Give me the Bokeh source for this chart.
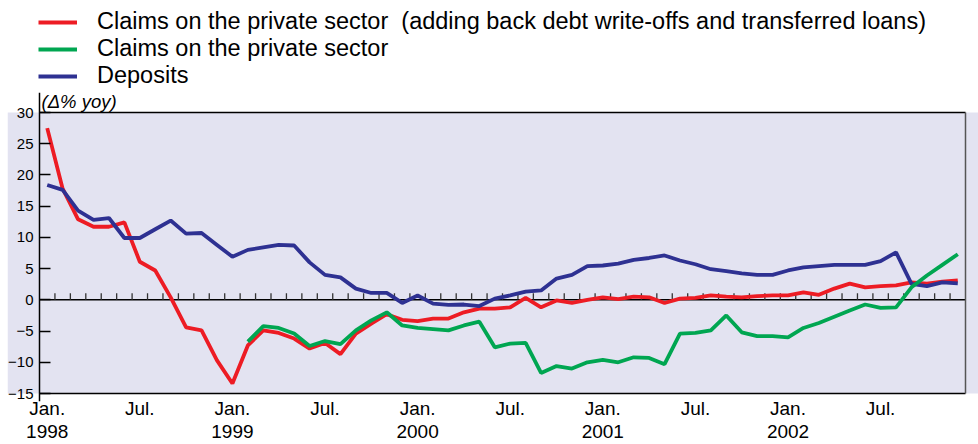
import math
from bokeh.plotting import figure
from bokeh.layouts import column
from bokeh.models import (Range1d, LinearAxis, FixedTicker, Legend, LegendItem,
                          ColumnDataSource, BoxAnnotation, Label)
from bokeh.embed import file_html
from bokeh.resources import INLINE

NaN = float("nan")

# ---- data (monthly, Jan 1998 - Dec 2002) ----
years = [1998, 1999, 2000, 2001, 2002]
month_names = ["Jan.", "Feb.", "Mar.", "Apr.", "May", "Jun.",
               "Jul.", "Aug.", "Sep.", "Oct.", "Nov.", "Dec."]

claims_adjusted = [
    27.5, 17.8, 12.9, 11.7, 11.7, 12.4, 6.1, 4.7, 0.4, -4.4, -4.9, -9.7,
    -13.4, -7.3, -4.9, -5.3, -6.2, -7.8, -6.9, -8.7, -5.4, -3.8, -2.3, -3.2,
    -3.4, -3.0, -3.0, -2.0, -1.4, -1.4, -1.2, 0.3, -1.2, -0.1, -0.5, 0.0,
    0.4, 0.1, 0.5, 0.4, -0.5, 0.2, 0.3, 0.7, 0.5, 0.4, 0.6, 0.7,
    0.7, 1.2, 0.8, 1.8, 2.6, 2.0, 2.2, 2.3, 2.8, 2.6, 2.9, 3.1,
]
claims = [NaN] * 13 + [
    -6.7, -4.2, -4.5, -5.4, -7.4, -6.6, -7.1, -4.9, -3.3, -2.0, -4.1,
    -4.5, -4.7, -4.9, -4.1, -3.5, -7.6, -7.0, -6.9, -11.7, -10.6, -11.0, -10.0,
    -9.6, -10.0, -9.2, -9.3, -10.3, -5.4, -5.3, -4.9, -2.5, -5.2, -5.8, -5.8,
    -6.0, -4.5, -3.7, -2.7, -1.7, -0.75, -1.3, -1.2, 2.0, 3.9, 5.6, 7.3,
]
deposits = [
    18.4, 17.6, 14.3, 12.8, 13.1, 9.9, 9.9, 11.3, 12.7, 10.6, 10.7, 8.8,
    6.9, 8.0, 8.4, 8.8, 8.7, 6.0, 4.0, 3.6, 1.8, 1.1, 1.1, -0.5,
    0.7, -0.6, -0.8, -0.75, -1.0, 0.2, 0.7, 1.3, 1.5, 3.4, 4.0, 5.4,
    5.5, 5.8, 6.4, 6.7, 7.1, 6.3, 5.7, 4.9, 4.6, 4.25, 4.0, 4.0,
    4.7, 5.2, 5.4, 5.6, 5.6, 5.6, 6.2, 7.6, 2.55, 2.2, 2.8, 2.65,
]
y_ticks = [-15, -10, -5, 0, 5, 10, 15, 20, 25, 30]

legend_labels = [
    "Claims on the private sector\u00a0 (adding back debt write-offs and transferred loans)",
    "Claims on the private sector",
    "Deposits",
]
unit_label = "(\u0394% yoy)"

# ---- derived ----
n = len(deposits)
idx = list(range(n))
src = ColumnDataSource(dict(x=idx, adj=claims_adjusted, cl=claims, dep=deposits))

LAV = "#E3E3F1"
RED = "#ED1C24"
GREEN = "#00A651"
BLUE = "#2E3192"
FONT = "Liberation Sans"
LW = 3.8
W = 978
H = 444

# ---------- legend strip ----------
LEG_H = 92
pl = figure(width=W, height=LEG_H, output_backend="svg", toolbar_location=None,
            x_range=Range1d(0, 1), y_range=Range1d(1000, 1001),
            x_axis_location=None, y_axis_location=None, min_border=0)
pl.outline_line_color = None
pl.xgrid.visible = False
pl.ygrid.visible = False
pl.background_fill_color = "white"
l_adj = pl.line("x", "adj", source=src, line_color=RED, line_width=LW)
l_cl = pl.line("x", "cl", source=src, line_color=GREEN, line_width=LW)
l_dep = pl.line("x", "dep", source=src, line_color=BLUE, line_width=LW)
legend = Legend(items=[LegendItem(label=legend_labels[0], renderers=[l_adj]),
                       LegendItem(label=legend_labels[1], renderers=[l_cl]),
                       LegendItem(label=legend_labels[2], renderers=[l_dep])],
                location=(31, LEG_H - 11 - 78), orientation="vertical")
legend.glyph_width = 39
legend.glyph_height = 26
legend.label_height = 26
legend.spacing = 0
legend.padding = 0
legend.margin = 0
legend.label_standoff = 20
legend.border_line_color = None
legend.background_fill_alpha = 0
legend.label_text_font = FONT
legend.label_text_font_size = "23.5px"
legend.label_text_color = "black"
pl.add_layout(legend, "center")

# ---------- main chart ----------
x_lo, x_hi = idx[0] - 0.5, idx[-1] + 0.5
frame_left = 7
left_strip, right_strip = 32, 13
ppm = (W - frame_left - left_strip - right_strip) / (x_hi - x_lo)
ppu = 281 / (y_ticks[-1] - y_ticks[0])     # px per percentage point
pad_top, pad_bot = 112 - LEG_H, 8
p = figure(width=W, height=H - LEG_H, output_backend="svg", toolbar_location=None,
           x_range=Range1d(x_lo - left_strip / ppm, x_hi + right_strip / ppm),
           y_range=Range1d(y_ticks[0] - pad_bot / ppu, y_ticks[-1] + pad_top / ppu),
           x_axis_location=None, y_axis_location=None,
           min_border=0, min_border_left=frame_left, min_border_bottom=43)
p.background_fill_color = "white"
p.border_fill_color = "white"
p.outline_line_color = None
p.xgrid.visible = False
p.ygrid.visible = False

# lavender plotting band
p.add_layout(BoxAnnotation(bottom=y_ticks[0], top=y_ticks[-1], fill_color=LAV,
                           fill_alpha=1.0, line_color=None, level="underlay"))

# unit label above the frame
p.add_layout(Label(x=x_lo, y=y_ticks[-1], x_offset=2, y_offset=1, text=unit_label,
                   text_font=FONT, text_font_style="italic", text_font_size="18.5px",
                   text_color="black", text_baseline="bottom", text_align="left"))

# left axis, fixed at the start of the data region
yax = LinearAxis(ticker=FixedTicker(ticks=y_ticks), fixed_location=x_lo)
yax.major_tick_in = 11
yax.major_tick_out = 0
yax.major_tick_line_color = "black"
yax.major_tick_line_width = 1.5
yax.minor_tick_line_color = None
yax.axis_line_color = "black"
yax.axis_line_width = 1.5
yax.major_label_text_font = FONT
yax.major_label_text_font_size = "15px"
yax.major_label_text_color = "black"
yax.major_label_standoff = 6
p.add_layout(yax, "left")

# bottom axes: month labels and year labels
half_ticks = [i for i in idx if i % 6 == 0]
year_ticks = [i for i in idx if i % 12 == 0]
xax1 = LinearAxis(ticker=FixedTicker(ticks=half_ticks),
                  major_label_overrides={i: month_names[i % 12] for i in half_ticks})
xax2 = LinearAxis(ticker=FixedTicker(ticks=year_ticks),
                  major_label_overrides={i: str(years[i // 12]) for i in year_ticks})
for ax, so in ((xax1, -4), (xax2, 3)):
    ax.major_tick_in = 0
    ax.major_tick_out = 0
    ax.minor_tick_line_color = None
    ax.axis_line_color = None
    ax.major_label_text_font = FONT
    ax.major_label_text_font_size = "19px"
    ax.major_label_text_color = "black"
    ax.major_label_standoff = so
p.add_layout(xax1, "below")
p.add_layout(xax2, "below")

# frame lines (top, bottom, zero) and right edge, limited to the data region
p.segment(x0=[x_lo] * 3, y0=[y_ticks[-1], y_ticks[0], 0],
          x1=[x_hi] * 3, y1=[y_ticks[-1], y_ticks[0], 0],
          line_color="black", line_width=1.5)
p.segment(x0=[x_hi], y0=[y_ticks[0]], x1=[x_hi], y1=[y_ticks[-1]],
          line_color="#555555", line_width=1.5)

# monthly ticks on the zero line
bounds = [i - 0.5 for i in idx[1:]]
tick_h = 6.5 / ppu
p.segment(x0=bounds, y0=[0] * len(bounds), x1=bounds, y1=[tick_h] * len(bounds),
          line_color="#333333", line_width=1.3)

r_adj = p.line("x", "adj", source=src, line_color=RED, line_width=LW)
r_dep = p.line("x", "dep", source=src, line_color=BLUE, line_width=LW)
r_cl = p.line("x", "cl", source=src, line_color=GREEN, line_width=LW)

layout = column(pl, p, spacing=0)
open("out.html", "w").write(file_html(layout, INLINE))
